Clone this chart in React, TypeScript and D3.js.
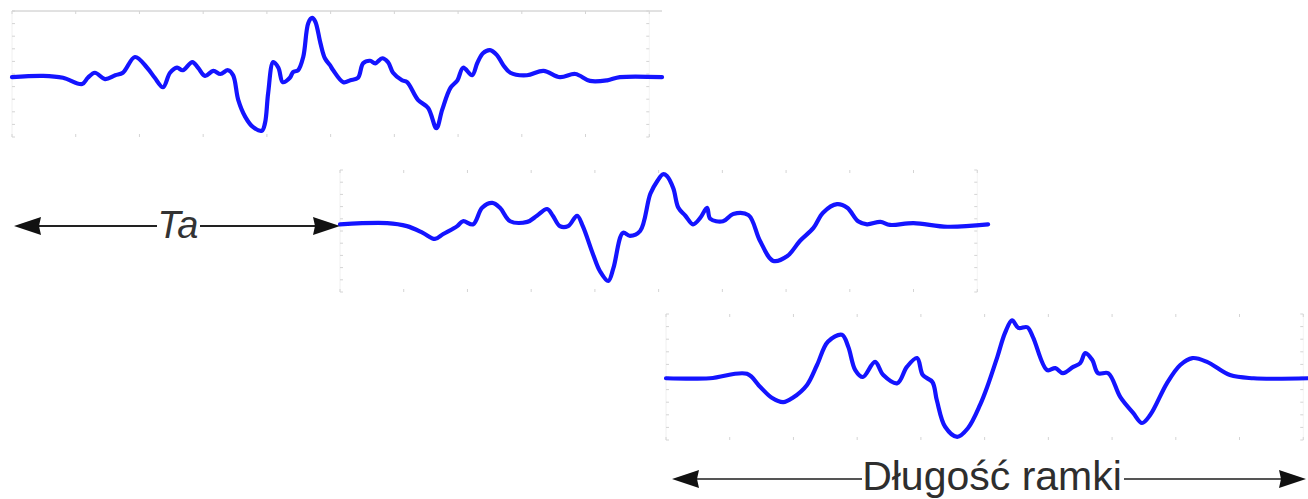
import React from "react";
import * as d3 from "d3";

// time axis (relative units per frame) and amplitude ticks
const xTicks = [0, 10, 20, 30, 40, 50, 60, 70, 80, 90, 100];
const yTicks = [-1, -0.8, -0.6, -0.4, -0.2, 0, 0.2, 0.4, 0.6, 0.8, 1];

// Frame 1 samples [t, amplitude]
const frameA: [number, number][] = [
  [0, -0.05], [4.9, -0.03], [8.0, -0.06], [11.0, -0.16], [11.9, -0.06], [13.0, 0.02],
  [14.6, -0.08], [16.2, -0.02], [17.4, 0.02], [19.3, 0.27], [21.2, 0.1], [22.4, -0.06],
  [23.7, -0.21], [24.8, 0.02], [25.9, 0.1], [26.8, 0.06], [28.3, 0.19], [29.2, 0.1],
  [30.3, -0.03], [31.6, 0.05], [32.7, 0.0], [33.9, 0.06], [34.7, -0.02], [35.5, -0.41],
  [36.6, -0.68], [37.8, -0.84], [39.2, -0.9], [39.7, -0.78], [40.2, -0.3], [41.0, 0.19],
  [41.8, 0.1], [42.5, -0.13], [43.6, -0.06], [44.1, 0.03], [44.9, 0.06], [45.7, 0.27],
  [46.5, 0.81], [47.1, 0.89], [47.6, 0.83], [48.4, 0.49], [49.1, 0.25], [49.9, 0.14],
  [50.4, 0.06], [52.0, -0.13], [53.1, -0.1], [54.3, -0.06], [55.1, 0.17], [56.2, 0.21],
  [57.0, 0.17], [58.1, 0.25], [59.0, 0.19], [59.8, 0.02], [61.2, -0.1], [62.0, -0.13],
  [63.7, -0.41], [65.3, -0.54], [66.6, -0.86], [67.5, -0.57], [68.8, -0.22], [69.9, -0.1],
  [70.8, 0.1], [72.2, -0.02], [73.0, 0.17], [73.9, 0.33], [75.0, 0.38], [76.1, 0.3],
  [77.1, 0.14], [78.2, 0.02], [80.8, -0.02], [83.4, 0.05], [86.0, -0.05], [88.4, 0.0],
  [90.7, -0.11], [93.4, -0.1], [95.4, -0.05], [102.0, -0.05],
];

// Frame 2 samples [t, amplitude]
const frameB: [number, number][] = [
  [0, 0.11], [7.4, 0.13], [10.5, 0.08], [13.0, -0.03], [14.9, -0.13], [16.2, -0.05],
  [18.4, 0.08], [19.3, 0.16], [20.9, 0.11], [22.3, 0.38], [23.9, 0.46], [25.1, 0.38],
  [26.7, 0.16], [29.4, 0.15], [30.9, 0.25], [32.5, 0.36], [33.4, 0.25], [34.5, 0.08],
  [35.8, 0.08], [37.2, 0.25], [38.1, 0.08], [39.7, -0.38], [40.8, -0.66], [42.1, -0.82],
  [42.9, -0.61], [44.4, -0.03], [45.5, -0.08], [47.1, 0.0], [48.7, 0.61], [49.8, 0.82],
  [50.7, 0.93], [51.3, 0.9], [52.3, 0.7], [53.1, 0.38], [54.2, 0.25], [55.4, 0.11],
  [56.5, 0.21], [57.6, 0.38], [58.1, 0.2], [60.1, 0.16], [61.7, 0.28], [64.1, 0.26],
  [65.9, -0.16], [68.0, -0.49], [70.2, -0.41], [72.2, -0.16], [74.3, 0.05], [75.8, 0.3],
  [78.0, 0.44], [79.6, 0.38], [81.3, 0.16], [82.7, 0.11], [84.8, 0.15], [86.3, 0.1],
  [90.0, 0.13], [95.3, 0.07], [101.7, 0.11],
];

// Frame 3 samples [t, amplitude]
const frameC: [number, number][] = [
  [0, -0.02], [6.9, -0.02], [12.7, 0.05], [14.8, -0.16], [16.6, -0.33], [18.4, -0.4],
  [19.9, -0.33], [22.1, -0.13], [23.7, 0.19], [25.4, 0.56], [27.6, 0.67], [28.6, 0.48],
  [29.7, 0.11], [30.9, 0.0], [32.8, 0.24], [34.1, 0.03], [36.3, -0.1], [37.8, 0.16],
  [39.4, 0.3], [40.3, 0.03], [41.8, -0.08], [42.5, -0.37], [43.8, -0.79], [45.7, -0.95],
  [47.4, -0.81], [49.3, -0.44], [50.4, -0.16], [52.0, 0.32], [53.2, 0.7], [54.3, 0.9],
  [55.3, 0.78], [56.7, 0.79], [57.6, 0.63], [59.8, 0.11], [61.1, 0.14], [62.3, 0.06],
  [63.9, 0.16], [65.0, 0.22], [65.8, 0.38], [66.9, 0.27], [67.8, 0.06], [69.4, 0.06],
  [71.3, -0.32], [73.3, -0.57], [74.7, -0.73], [76.0, -0.6], [78.6, -0.1], [80.7, 0.19],
  [82.6, 0.3], [84.9, 0.24], [88.5, 0.03], [92.2, -0.02], [100.8, -0.02],
];

const labelTa = "Ta";
const labelFrame = "Długość ramki";

const W = 1308;
const H = 499;
const PANEL_W = 650;
const X_MAX = 102;

const panels = [
  { left: 12, top: 11, bottom: 137, data: frameA, topLine: true },
  { left: 340, top: 170, bottom: 292, data: frameB, topLine: false },
  { left: 666, top: 314, bottom: 440, data: frameC, topLine: false },
];

function Panel({ left, top, bottom, data, topLine }: any) {
  const x = d3.scaleLinear().domain([0, X_MAX]).range([left, left + PANEL_W]);
  const y = d3.scaleLinear().domain([-1, 1]).range([bottom, top]);
  const line = d3
    .line<[number, number]>()
    .x((d) => x(d[0]))
    .y((d) => y(d[1]))
    .curve(d3.curveCatmullRom.alpha(0.5));
  const tickCol = "#d4d4d4";
  return (
    <g>
      {topLine && (
        <line x1={x(0)} x2={x(X_MAX)} y1={top} y2={top} stroke="#c4c4c4" strokeWidth={1} />
      )}
      <line x1={x(0)} x2={x(0)} y1={top} y2={bottom} stroke="#f0f0f0" strokeWidth={1} />
      <line x1={x(100)} x2={x(100)} y1={top} y2={bottom} stroke="#f4f4f4" strokeWidth={1} />
      {xTicks.map((t) => (
        <g key={"x" + t}>
          <line x1={x(t)} x2={x(t)} y1={top} y2={top + 3} stroke={tickCol} strokeWidth={1} />
          <line x1={x(t)} x2={x(t)} y1={bottom} y2={bottom - 3} stroke={tickCol} strokeWidth={1} />
        </g>
      ))}
      {yTicks.map((v) => (
        <g key={"y" + v}>
          <line x1={x(0)} x2={x(0) + 3} y1={y(v)} y2={y(v)} stroke={tickCol} strokeWidth={1} />
          <line x1={x(100)} x2={x(100) - 3} y1={y(v)} y2={y(v)} stroke={tickCol} strokeWidth={1} />
        </g>
      ))}
      <path
        d={line(data) || ""}
        fill="none"
        stroke="#1414ff"
        strokeWidth={4.2}
        strokeLinejoin="round"
        strokeLinecap="round"
      />
    </g>
  );
}

function Arrow({ x1, x2, y, gapFrom, gapTo, color }: any) {
  const hl = 27;
  const hh = 9;
  return (
    <g>
      <line x1={x1 + hl - 3} x2={gapFrom} y1={y} y2={y} stroke={color} strokeWidth={2} />
      <line x1={gapTo} x2={x2 - hl + 3} y1={y} y2={y} stroke={color} strokeWidth={2} />
      <path d={`M${x1},${y} L${x1 + hl},${y - hh} L${x1 + hl - 2},${y} L${x1 + hl},${y + hh} Z`} fill="#111" />
      <path d={`M${x2},${y} L${x2 - hl},${y - hh} L${x2 - hl + 2},${y} L${x2 - hl},${y + hh} Z`} fill="#111" />
    </g>
  );
}

export default function App() {
  return (
    <svg
      width={W}
      height={H}
      style={{ position: "absolute", left: 0, top: 0, background: "#fff" }}
      fontFamily="'Liberation Sans', Arial, sans-serif"
    >
      <rect x={0} y={0} width={W} height={H} fill="#fff" />
      {panels.map((p, i) => (
        <Panel key={i} {...p} />
      ))}
      <Arrow x1={14} x2={340} y={226} gapFrom={157} gapTo={200} color="#222" />
      <text x={178} y={238} fontSize={38} fontStyle="italic" fill="#333" textAnchor="middle">
        {labelTa}
      </text>
      <Arrow x1={672} x2={1306} y={479} gapFrom={862} gapTo={1124} color="#555" />
      <text x={992} y={490} fontSize={41} fill="#2e2e2e" textAnchor="middle">
        {labelFrame}
      </text>
    </svg>
  );
}
